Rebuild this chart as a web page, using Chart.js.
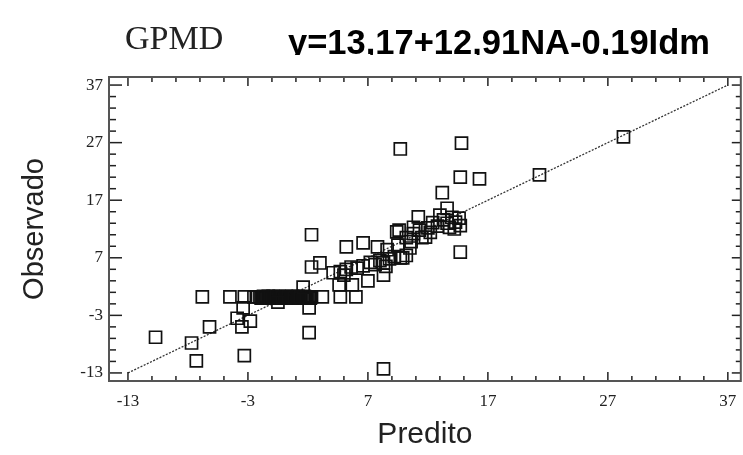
<!DOCTYPE html>
<html>
<head>
<meta charset="utf-8">
<script src="https://cdn.jsdelivr.net/npm/chart.js@4/dist/chart.umd.min.js"></script>
<style>
  html,body{margin:0;padding:0;background:#fff;overflow:hidden;}
  #wrap{position:relative;width:743px;height:455px;overflow:hidden;}
  #c{position:absolute;left:0;top:0;}
  .t1{position:absolute;left:125px;top:21px;font-family:"Liberation Serif","DejaVu Serif",serif;font-size:34px;line-height:1;color:#222;white-space:nowrap;}
  .t2{position:absolute;left:288px;top:25px;height:30px;overflow:hidden;font-family:"Liberation Sans",Arial,sans-serif;font-weight:bold;font-size:34.5px;line-height:1;color:#000;white-space:nowrap;}
</style>
</head>
<body>
<div id="wrap">
  <canvas id="c" width="751" height="455"></canvas>
  <div class="t1">GPMD</div>
  <div class="t2">y=13,17+12,91NA-0,19Idm</div>
</div>
<script>
// ---- data ----
const predito = [
  -10.7, -7.7, -7.3, -6.8, -6.2, -4.5, -3.9, -3.5, -3.4, -3.3, -3.3, -2.8,
  -2.5, -2.2, -2.0, -1.9, -1.8, -1.7, -1.6, -1.5, -1.4, -1.3, -1.2, -1.1,
  -1.0, -0.9, -0.8, -0.7, -0.6, -0.5, -0.4, -0.3, -0.2, -0.1, 0.0, 0.1,
  0.2, 0.3, 0.4, 0.5, 0.6, 0.7, 0.8, 0.9, 1.0, 1.1, 1.2, 1.3,
  1.4, 1.5, 1.6, 1.7, 1.8, 1.9, 2.0, 2.1, 2.2, 2.3,
  -0.5, 1.6, 2.1, 2.1, 2.3, 3.0, 2.3, 3.2, 4.7, 6.0, 5.2, 6.6, 4.6, 5.7, 7.0,
  4.1, 4.7, 5.2, 5.6, 6.1, 6.6, 5.0, 7.8, 8.3, 8.3, 8.6, 9.4, 9.7, 8.3,
  10.8, 11.2, 9.7, 14.8, 14.7, 16.3, 13.2, 13.6, 14.7, 21.3, 28.3,
  10.5, 9.9, 11.8, 13.8, 7.6, 8.0, 8.8, 9.2, 10.2, 8.5, 7.2,
  10.2, 10.8, 11.3, 12.0, 12.4, 12.8, 13.3, 13.6, 14.0, 14.3, 14.6, 14.7,
  12.2, 11.5, 13.0, 10.6, 9.5, 14.2, 9.6
];
const observado = [
  -6.8, -7.8, -10.9, 0.2, -5.0, 0.2, -3.5, -5.0, -1.7, 0.2, -10.0, -4.0,
  0.2, 0.2, 0.2, 0.0, 0.1, 0.3, 0.2, 0.0, 0.1, 0.3, 0.2, 0.0,
  0.1, 0.3, 0.2, 0.0, 0.2, 0.1, 0.3, 0.0, 0.2, 0.1, 0.2, 0.0,
  0.3, 0.1, 0.2, 0.0, 0.2, 0.3, 0.1, 0.0, 0.2, 0.1, 0.3, 0.0,
  0.2, 0.1, 0.2, 0.3, 0.0, 0.2, 0.1, 0.2, 0.0, 0.2,
  -0.7, 1.9, -1.7, -6.0, 11.0, 6.1, 5.4, 0.2, 0.2, 0.2, 8.9, 9.6, 2.3, 2.3, 3.0,
  4.4, 4.6, 5.0, 5.4, 5.2, 5.6, 4.0, 8.9, 4.0, 6.1, 8.4, 11.5, 7.0, -12.3,
  12.3, 14.1, 25.9, 26.9, 21.0, 20.7, 18.3, 15.6, 8.0, 21.4, 28.0,
  8.7, 7.0, 10.6, 12.3, 5.8, 6.5, 6.8, 7.2, 7.4, 5.5, 6.2,
  10.5, 11.2, 11.8, 12.2, 13.1, 12.5, 13.6, 13.0, 14.0, 13.2, 13.9, 12.6,
  11.4, 10.5, 14.4, 9.8, 9.2, 12.0, 11.8
];
const fitX = [-13, 37];
const fitY = [-13, 37];
const xTickLabels = [-13, -3, 7, 17, 27, 37];
const yTickLabels = [-13, -3, 7, 17, 27, 37];
const minorTicks = [-13,-11,-9,-7,-5,-3,-1,1,3,5,7,9,11,13,15,17,19,21,23,25,27,29,31,33,35,37];

const points = predito.map((v, i) => ({x: v, y: observado[i]}));
const fitLine = fitX.map((v, i) => ({x: v, y: fitY[i]}));

const frameTicks = {
  id: 'frameTicks',
  afterDraw(chart) {
    const {ctx, chartArea: a, scales: {x, y}} = chart;
    ctx.save();
    ctx.strokeStyle = '#222';
    ctx.lineWidth = 1.5;
    const seg = (x1, y1, x2, y2) => { ctx.beginPath(); ctx.moveTo(x1, y1); ctx.lineTo(x2, y2); ctx.stroke(); };
    minorTicks.forEach(v => {
      const major = xTickLabels.includes(v);
      const px = x.getPixelForValue(v);
      const L = major ? 9 : 5;
      seg(px, a.bottom, px, a.bottom - L);
      seg(px, a.top, px, a.top + L);
    });
    minorTicks.forEach(v => {
      const major = yTickLabels.includes(v);
      const py = y.getPixelForValue(v);
      seg(a.left, py, a.left + (major ? 13 : 7), py);
      seg(a.right, py, a.right - (major ? 9 : 5), py);
    });
    ctx.strokeStyle = '#555';
    ctx.lineWidth = 2;
    ctx.strokeRect(a.left, a.top, a.right - a.left, a.bottom - a.top);
    ctx.restore();
  }
};

new Chart(document.getElementById('c'), {
  type: 'scatter',
  data: {
    datasets: [
      {
        type: 'line',
        data: fitLine,
        borderColor: '#333',
        borderWidth: 1.3,
        borderDash: [2, 1.5],
        pointRadius: 0,
        fill: false,
        order: 2
      },
      {
        data: points,
        pointStyle: 'rect',
        pointRadius: 8.5,
        pointHoverRadius: 8.5,
        borderWidth: 1.7,
        borderColor: '#111',
        backgroundColor: 'rgba(0,0,0,0)',
        order: 1
      }
    ]
  },
  options: {
    responsive: false,
    animation: false,
    events: [],
    layout: {padding: {top: 77, right: 2, left: 0, bottom: 0}},
    plugins: {legend: {display: false}, tooltip: {enabled: false}, title: {display: false}},
    scales: {
      x: {
        type: 'linear',
        min: -14.58, max: 38.08,
        grid: {display: false, drawTicks: false},
        border: {display: false},
        afterBuildTicks: s => { s.ticks = xTickLabels.map(v => ({value: v})); },
        afterFit: s => { s.height = 74; s.paddingLeft = 0; s.paddingRight = 0; },
        ticks: {
          autoSkip: false, maxRotation: 0, padding: 0,
          color: '#222',
          font: {family: '"Liberation Serif", serif', size: 17, lineHeight: 2.4},
          callback: v => String(v)
        },
        title: {
          display: true, text: 'Predito', color: '#222',
          font: {family: '"Liberation Sans", Arial, sans-serif', size: 30},
          padding: {top: 0, bottom: 2}
        }
      },
      y: {
        type: 'linear',
        min: -14.4, max: 38.4,
        grid: {display: false, drawTicks: false},
        border: {display: false},
        afterBuildTicks: s => { s.ticks = yTickLabels.map(v => ({value: v})); },
        afterFit: s => { s.width = 109; s.paddingTop = 0; s.paddingBottom = 0; },
        ticks: {
          autoSkip: false, padding: 6,
          color: '#222',
          font: {family: '"Liberation Serif", serif', size: 17},
          callback: v => String(v)
        },
        title: {
          display: true, text: 'Observado', color: '#222',
          font: {family: '"Liberation Sans", Arial, sans-serif', size: 29},
          padding: {top: 18, bottom: 0}
        }
      }
    }
  },
  plugins: [frameTicks]
});
</script>
</body>
</html>
